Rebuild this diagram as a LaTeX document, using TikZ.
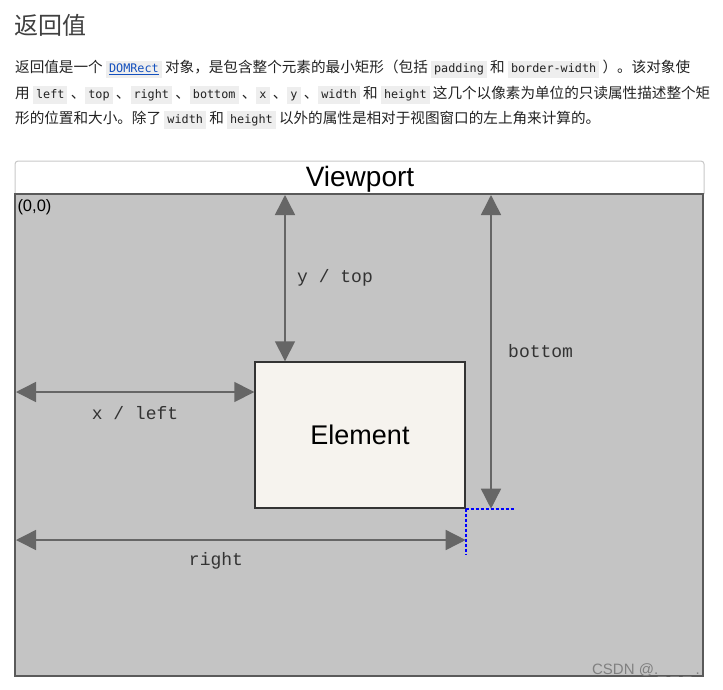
\documentclass[tikz,border=0pt]{standalone}
\usepackage{fontspec}
\usepackage{xcolor}
\usepackage{tikz}
\usetikzlibrary{arrows.meta,positioning}
\setmainfont{Liberation Sans}
\newfontfamily\cjkfont{Noto Sans CJK SC}
\newfontfamily\codefont{DejaVu Sans Mono}
\newfontfamily\lblfont{Liberation Mono}
\definecolor{vpgray}{RGB}{196,196,196}
\definecolor{vpedge}{RGB}{90,90,90}
\definecolor{hdredge}{RGB}{200,200,200}
\definecolor{dimgray}{RGB}{102,102,102}
\definecolor{elemfill}{RGB}{246,243,238}
\definecolor{codebg}{RGB}{238,238,238}
\definecolor{linkblue}{RGB}{20,80,190}
\definecolor{bodytext}{RGB}{34,34,34}
\newcommand{\ic}[1]{{\setlength\fboxsep{3pt}\colorbox{codebg}{\codefont\fontsize{11.8}{14}\selectfont\vphantom{Agy}#1}}}
\tikzstyle{textline}=[anchor=west,inner sep=0pt,text=bodytext,font=\cjkfont\fontsize{14.6}{18}\selectfont]
\tikzstyle{vpbox}=[draw=vpedge,fill=vpgray,line width=1.4pt,minimum width=688pt,minimum height=482pt]
\tikzstyle{elembox}=[draw=black!80,fill=elemfill,line width=1.4pt,minimum width=210pt,minimum height=146pt,font=\fontsize{27}{30}\selectfont]
\tikzstyle{dimarrow}=[draw=dimgray,line width=1.5pt,{Triangle[length=20pt,width=20pt]}-{Triangle[length=20pt,width=20pt]}]
\tikzstyle{dimlabel}=[inner sep=0pt,text=black!80,font=\lblfont\fontsize{18}{20}\selectfont]
\tikzstyle{guide}=[draw=blue,line width=2pt,dash pattern=on 3pt off 2pt]

\begin{document}
\begin{tikzpicture}[x=1pt,y=-1pt]
\useasboundingbox (0,0) rectangle (723,689);
% heading and paragraph
\node[textline,text=black!75,font=\cjkfont\fontsize{24}{28}\selectfont] (title) at (14,25) {返回值};
\node[textline] (line1) at (15,69) {返回值是一个 \ic{\textcolor{linkblue}{\underline{DOMRect}}} 对象，是包含整个元素的最小矩形（包括 \ic{padding} 和 \ic{border-width} ）。该对象使};
\node[textline] (line2) at (15,95) {用 \ic{left} 、\ic{top} 、\ic{right} 、\ic{bottom} 、\ic{x} 、\ic{y} 、\ic{width} 和 \ic{height} 这几个以像素为单位的只读属性描述整个矩};
\node[textline] (line3) at (15,120) {形的位置和大小。除了 \ic{width} 和 \ic{height} 以外的属性是相对于视图窗口的左上角来计算的。};

% viewport
\draw[draw=hdredge,fill=white,line width=1pt,rounded corners=3pt] (15,194) -- (15,161) -- (704,161) -- (704,194);
\node[vpbox] (vp) at (359,435) {};
\node[font=\fontsize{28}{30}\selectfont] (vptitle) at (360,179) {Viewport};
\node[anchor=north west,inner sep=0pt,font=\fontsize{16.5}{18}\selectfont] (origin) at ([shift={(3,6)}]vp.north west) {(0,0)};
\node[elembox] (elem) at (360,435) {Element};

% dimension arrows
\coordinate (topA) at (285,195);
\coordinate (botA) at (491,195);
\coordinate (leftA) at (16,392);
\coordinate (rightA) at (16,540);
\draw[dimarrow] (topA) -- (topA |- elem.north);
\draw[dimarrow] (botA) -- (botA |- elem.south);
\draw[dimarrow] (leftA) -- (leftA -| elem.west);
\draw[dimarrow] (rightA) -- (rightA -| elem.east);
\node[dimlabel,anchor=west] (ylbl) at (297,278) {y / top};
\node[dimlabel,anchor=west] (blbl) at (508,351) {bottom};
\node[dimlabel] (xlbl) at (135,413) {x / left};
\node[dimlabel] (rlbl) at (216,561) {right};

% corner guides
\draw[guide] (elem.south east) -- ++(48,0);
\draw[guide] (elem.south east) -- ++(0,46);

\node[text=gray,font=\fontsize{15}{17}\selectfont] (mark) at (646,671) {CSDN @.\_ \_ \_ .};
\end{tikzpicture}
\end{document}
